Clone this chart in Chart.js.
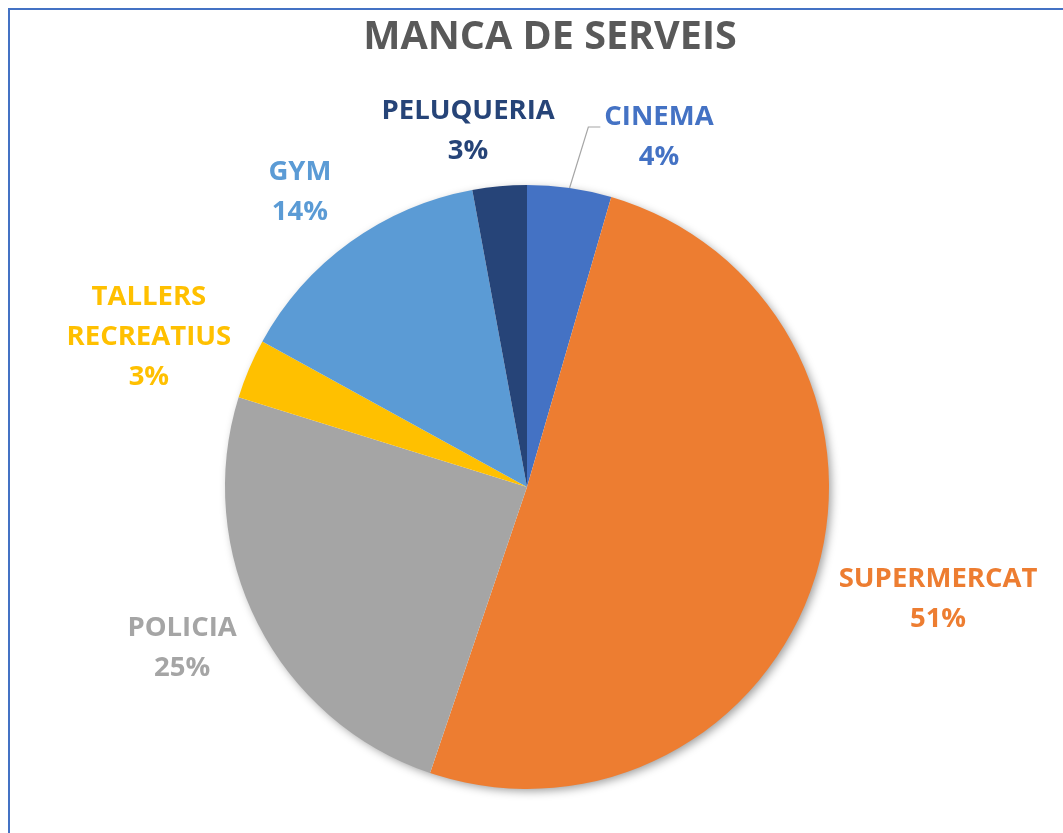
<!DOCTYPE html>
<html><head><meta charset="utf-8">
<script src="https://cdn.jsdelivr.net/npm/chart.js@4/dist/chart.umd.min.js"></script>
<style>html,body{margin:0;padding:0;background:#fff;overflow:hidden}#wrap{width:1063px;height:833px;position:relative}</style>
</head><body><div id="wrap"><canvas id="c" width="1063" height="833"></canvas></div>
<script>
const chartTitle = "MANCA DE SERVEIS";
const categories = ["CINEMA","SUPERMERCAT","POLICIA","TALLERS RECREATIUS","GYM","PELUQUERIA"];
const values = [4.5, 50.7, 24.6, 3.2, 14.1, 2.9];
const colors = ["#4472C4","#ED7D31","#A5A5A5","#FFC000","#5B9BD5","#264478"];
const labelLines = [["CINEMA"],["SUPERMERCAT"],["POLICIA"],["TALLERS","RECREATIUS"],["GYM"],["PELUQUERIA"]];
// label block centre, in units of pie radius, relative to pie centre
const labelAnchors = [[0.437,-1.159],[1.361,0.371],[-1.142,0.533],[-1.252,-0.495],[-0.752,-0.977],[-0.195,-1.177]];
const leaderLine = [true,false,false,false,false,false];

const FONT = '"Open Sans", "DejaVu Sans", sans-serif';

const decor = {
  id: 'decor',
  beforeDraw(chart) {
    const ctx = chart.ctx;
    ctx.save();
    ctx.fillStyle = '#fff';
    ctx.fillRect(0,0,chart.width,chart.height);
    ctx.strokeStyle = '#4472C4';
    ctx.lineWidth = 2;
    ctx.beginPath();
    ctx.moveTo(9, chart.height);
    ctx.lineTo(9, 9);
    ctx.lineTo(chart.width, 9);
    ctx.stroke();
    ctx.fillStyle = '#595959';
    ctx.font = 'bold 39.5px ' + FONT;
    ctx.textAlign = 'center';
    ctx.textBaseline = 'middle';
    ctx.fillText(chartTitle, 550, 38);
    ctx.restore();
  },
  beforeDatasetsDraw(chart) {
    const arc = chart.getDatasetMeta(0).data[0];
    const ctx = chart.ctx;
    ctx.save();
    ctx.shadowColor = 'rgba(0,0,0,0.4)';
    ctx.shadowBlur = 10;
    ctx.shadowOffsetX = 3;
    ctx.shadowOffsetY = 3;
    ctx.fillStyle = '#fff';
    ctx.beginPath();
    ctx.arc(arc.x, arc.y, arc.outerRadius - 1, 0, Math.PI*2);
    ctx.fill();
    ctx.restore();
  },
  afterDatasetsDraw(chart) {
    const meta = chart.getDatasetMeta(0);
    const ctx = chart.ctx;
    const total = values.reduce((a,b)=>a+b,0);
    ctx.save();
    ctx.font = 'bold 27.5px ' + FONT;
    ctx.textAlign = 'center';
    ctx.textBaseline = 'middle';
    const lh = 40;
    meta.data.forEach((arc, i) => {
      const r = arc.outerRadius;
      const cx = arc.x + labelAnchors[i][0]*r;
      const cy = arc.y + labelAnchors[i][1]*r;
      const lines = labelLines[i].concat([Math.round(values[i]/total*100) + '%']);
      const y0 = cy - (lines.length-1)*lh/2;
      ctx.fillStyle = colors[i];
      lines.forEach((t, k) => ctx.fillText(t, cx, y0 + k*lh));
      if (leaderLine[i]) {
        const mid = (arc.startAngle + arc.endAngle)/2;
        const sx = arc.x + Math.cos(mid)*r, sy = arc.y + Math.sin(mid)*r;
        const w = ctx.measureText(lines[0]).width;
        const left = cx - w/2;
        ctx.strokeStyle = '#A6A6A6';
        ctx.lineWidth = 1.2;
        ctx.beginPath();
        ctx.moveTo(sx, sy);
        ctx.lineTo(left - 16, y0 + 10);
        ctx.lineTo(left - 4, y0 + 10);
        ctx.stroke();
      }
    });
    ctx.restore();
  }
};

new Chart(document.getElementById('c'), {
  type: 'pie',
  data: {
    labels: categories,
    datasets: [{ data: values, backgroundColor: colors, borderWidth: 0 }]
  },
  options: {
    responsive: false,
    animation: false,
    devicePixelRatio: 1,
    layout: { padding: { left: 225, right: 234, top: 185, bottom: 44 } },
    plugins: { legend: { display: false }, tooltip: { enabled: false }, title: { display: false } }
  },
  plugins: [decor]
});
</script></body></html>
